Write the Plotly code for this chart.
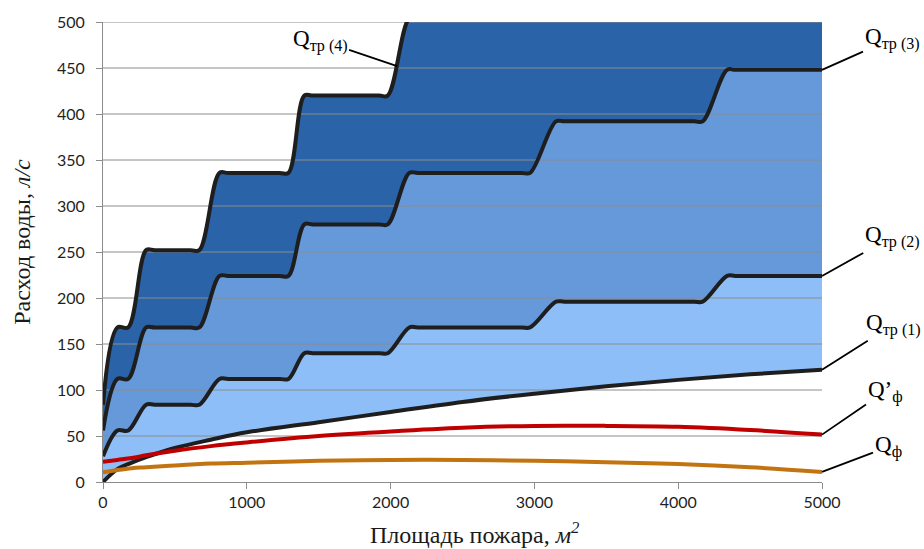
import plotly.graph_objects as go

# Fire area (m^2) along the stepped demand curves (plateau edges)
area_steps = [0, 100, 175, 300, 360, 610, 670, 810, 870, 1230, 1290,
              1400, 1460, 1920, 1980, 2130, 2190, 2910, 2970,
              3150, 3210, 4110, 4170, 4340, 4400, 5000]
# Required water flow, l/s, for the three stepped scenarios
q_tr2 = [28, 56, 56, 84, 84, 84, 84, 112, 112, 112, 112,
         140, 140, 140, 140, 168, 168, 168, 168,
         196, 196, 196, 196, 224, 224, 224]
q_tr3 = [56, 112, 112, 168, 168, 168, 168, 224, 224, 224, 224,
         280, 280, 280, 280, 336, 336, 336, 336,
         392, 392, 392, 392, 448, 448, 448]
q_tr4 = [84, 168, 168, 252, 252, 252, 252, 336, 336, 336, 336,
         420, 420, 420, 420, 504, 504, 504, 504,
         588, 588, 588, 588, 672, 672, 672]

# Smooth curves
area_smooth = [0, 100, 200, 300, 500, 750, 1000, 1500, 2000, 2500, 3000, 3500, 4000, 4500, 5000]
q_tr1 = [0, 14, 21, 27, 37, 46, 54, 65, 76, 87, 96, 104, 111, 117, 122]
q_f_prime = [22, 24, 26, 29, 34, 39, 43, 50, 55, 59, 61, 61, 60, 56.5, 51.5]
q_f = [10.5, 13, 15, 16, 18, 20, 21, 23, 24, 24, 23, 21.5, 19.5, 16, 11]

x_ticks = [0, 1000, 2000, 3000, 4000, 5000]
y_ticks = [0, 50, 100, 150, 200, 250, 300, 350, 400, 450, 500]

FILL_LIGHT = "#8DBEF8"
FILL_MID = "#6699DA"
FILL_DARK = "#2B63A8"
GRID = "#8C8C8C"
SPL = dict(shape="spline", smoothing=1.0)

fig = go.Figure()

# Filled bands between consecutive demand curves
fig.add_trace(go.Scatter(x=area_smooth, y=q_tr1, mode="lines",
                         line=dict(width=0, **SPL), hoverinfo="skip"))
fig.add_trace(go.Scatter(x=area_steps, y=q_tr2, mode="lines", fill="tonexty",
                         fillcolor=FILL_LIGHT, line=dict(width=0, **SPL), hoverinfo="skip"))
fig.add_trace(go.Scatter(x=area_steps, y=q_tr3, mode="lines", fill="tonexty",
                         fillcolor=FILL_MID, line=dict(width=0, **SPL), hoverinfo="skip"))
fig.add_trace(go.Scatter(x=area_steps, y=q_tr4, mode="lines", fill="tonexty",
                         fillcolor=FILL_DARK, line=dict(width=0, **SPL), hoverinfo="skip"))

# Horizontal grid drawn over the filled bands
gx, gy = [], []
for v in y_ticks[1:]:
    gx += [x_ticks[0], x_ticks[-1], None]
    gy += [v, v, None]
fig.add_trace(go.Scatter(x=gx, y=gy, mode="lines", line=dict(color=GRID, width=1),
                         hoverinfo="skip"))

# Curve outlines
for ys, xs in [(q_tr1, area_smooth), (q_tr2, area_steps), (q_tr3, area_steps), (q_tr4, area_steps)]:
    fig.add_trace(go.Scatter(x=xs, y=ys, mode="lines",
                             line=dict(color="#1E1E1E", width=4, **SPL)))
fig.add_trace(go.Scatter(x=area_smooth, y=q_f_prime, mode="lines",
                         line=dict(color="#C00000", width=4, **SPL)))
fig.add_trace(go.Scatter(x=area_smooth, y=q_f, mode="lines",
                         line=dict(color="#C27410", width=4, **SPL)))

# Curve labels with leader lines
lab_font = dict(family="Liberation Serif", size=23, color="black")
labels = [
    ("Q<sub>тр (4)</sub>", 2045, 452, -77, -26),
    ("Q<sub>тр (3)</sub>", 5000, q_tr3[-1], 70, -31),
    ("Q<sub>тр (2)</sub>", 5000, q_tr2[-1], 70, -39),
    ("Q<sub>тр (1)</sub>", 5000, q_tr1[-1], 71, -45),
    ("Q’<sub>ф</sub>", 5000, q_f_prime[-1], 63, -43),
    ("Q<sub>ф</sub>", 5000, q_f[-1], 66, -25),
]
for text, x, y, ax, ay in labels:
    fig.add_annotation(x=x, y=y, ax=ax, ay=ay, text=text, showarrow=True,
                       arrowhead=0, arrowwidth=1.8, arrowcolor="black",
                       standoff=0, startstandoff=0, font=lab_font)

# Axis titles
title_font = dict(family="Liberation Serif", size=24, color="#1A1A1A")
fig.add_annotation(xref="paper", yref="paper", x=0.517, y=-0.110,
                   text="Площадь пожара, <i>м<sup>2</sup></i>", showarrow=False,
                   font=title_font, xanchor="center", yanchor="middle")
fig.add_annotation(xref="paper", yref="paper", x=-0.1127, y=0.522,
                   text="Расход воды, <i>л/с</i>", showarrow=False, textangle=-90,
                   font=title_font, xanchor="center", yanchor="middle")

tick_font = dict(family="Lato", size=16, color="#1F1F1F")

fig.update_layout(
    width=924, height=549,
    margin=dict(l=103, r=102, t=20, b=67),
    plot_bgcolor="white", paper_bgcolor="white",
    showlegend=False,
    xaxis=dict(range=[0, 5000], tickvals=x_ticks, showgrid=False, zeroline=False,
               showline=True, linecolor=GRID, linewidth=1,
               ticks="outside", ticklen=6, tickcolor=GRID,
               tickfont=tick_font),
    yaxis=dict(range=[0, 500], tickvals=y_ticks, showgrid=False, zeroline=False,
               showline=True, linecolor=GRID, linewidth=1,
               ticks="outside", ticklen=6, tickcolor=GRID,
               tickfont=tick_font, ticklabelstandoff=8),
)

fig.write_html("out.html")
